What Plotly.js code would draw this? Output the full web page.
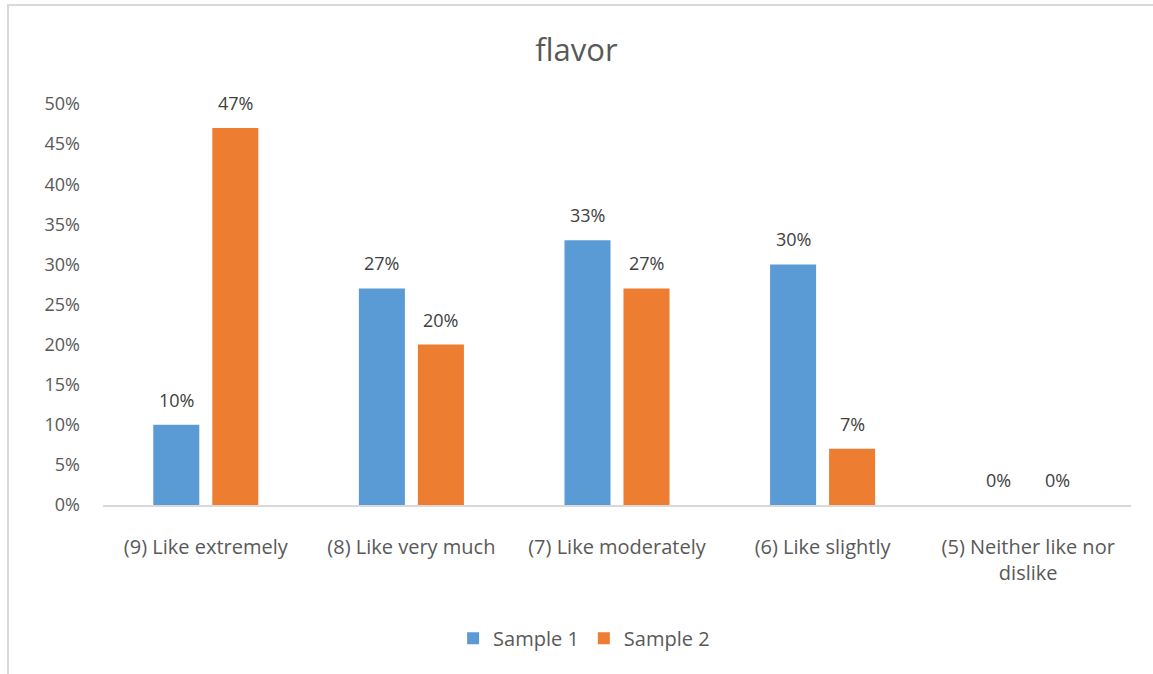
<!DOCTYPE html>
<html><head><meta charset="utf-8">
<script src="https://cdn.plot.ly/plotly-3.0.1.min.js"></script>
<style>
html,body{margin:0;padding:0;background:#fff;overflow:hidden;}
#frame{position:absolute;left:7px;top:4px;width:2000px;height:2000px;border-left:2px solid #d9d9d9;border-top:2px solid #d9d9d9;pointer-events:none;z-index:0;}
#chart{position:absolute;left:0;top:0;width:1153px;height:674px;z-index:1;}
</style></head>
<body>
<div id="frame"></div>
<div id="chart"></div>
<script>
const categories = ["(9) Like extremely", "(8) Like very much", "(7) Like moderately", "(6) Like slightly", "(5) Neither like nor<br>dislike"];
const sample1 = [0.10, 0.27, 0.33, 0.30, 0.00];
const sample2 = [0.47, 0.20, 0.27, 0.07, 0.00];
const seriesNames = ["Sample 1", "Sample 2"];
const colors = ["#5b9bd5", "#ed7d31"];
const fontFam = "Open Sans, sans-serif";
const txtCol = "#595959";

const W = 1153, H = 674;
const margin = {l: 103, r: 22, t: 104, b: 169};
const bargap = 0.426, bargroupgap = 0.22;
const series = [sample1, sample2];

const traces = series.map((vals, i) => ({
  type: "bar", x: categories, y: vals, name: seriesNames[i],
  marker: {color: colors[i]}, hoverinfo: "none"
}));

// data labels placed above each bar
const catW = (W - margin.l - margin.r) / categories.length;
const slot = catW * (1 - bargap) / series.length;
const annotations = [];
series.forEach((vals, i) => {
  const shift = (i - (series.length - 1) / 2) * slot;
  vals.forEach((v, j) => {
    annotations.push({
      x: categories[j], y: v, xref: "x", yref: "y",
      text: Math.round(v * 100) + "%", showarrow: false,
      xanchor: "center", yanchor: "bottom", xshift: shift, yshift: 11,
      font: {family: fontFam, size: 18, color: "#404040"}
    });
  });
});

const layout = {
  width: W, height: H, margin: margin,
  paper_bgcolor: "rgba(0,0,0,0)", plot_bgcolor: "rgba(0,0,0,0)",
  title: {text: "flavor", font: {family: fontFam, size: 31, color: txtCol}, x: 0.5, xanchor: "center", y: 0.925, yanchor: "middle"},
  barmode: "group", bargap: bargap, bargroupgap: bargroupgap,
  font: {family: fontFam, color: txtCol},
  xaxis: {showline: true, linecolor: "#d9d9d9", linewidth: 2, ticks: "", showgrid: false,
    tickfont: {family: fontFam, size: 20, color: txtCol}, ticklabelstandoff: 23},
  yaxis: {range: [0, 0.5], dtick: 0.05, tickformat: ".0%", showgrid: false, zeroline: false, showline: false,
    ticks: "", tickfont: {family: fontFam, size: 18, color: txtCol}, ticklabelstandoff: 22},
  legend: {orientation: "h", x: 0.468, xanchor: "center", y: -0.332, yanchor: "middle",
    font: {family: fontFam, size: 20, color: txtCol}, itemwidth: 30, traceorder: "normal"},
  annotations: annotations,
  showlegend: true
};
Plotly.newPlot("chart", traces, layout, {displayModeBar: false, staticPlot: true});
</script>
</body></html>
